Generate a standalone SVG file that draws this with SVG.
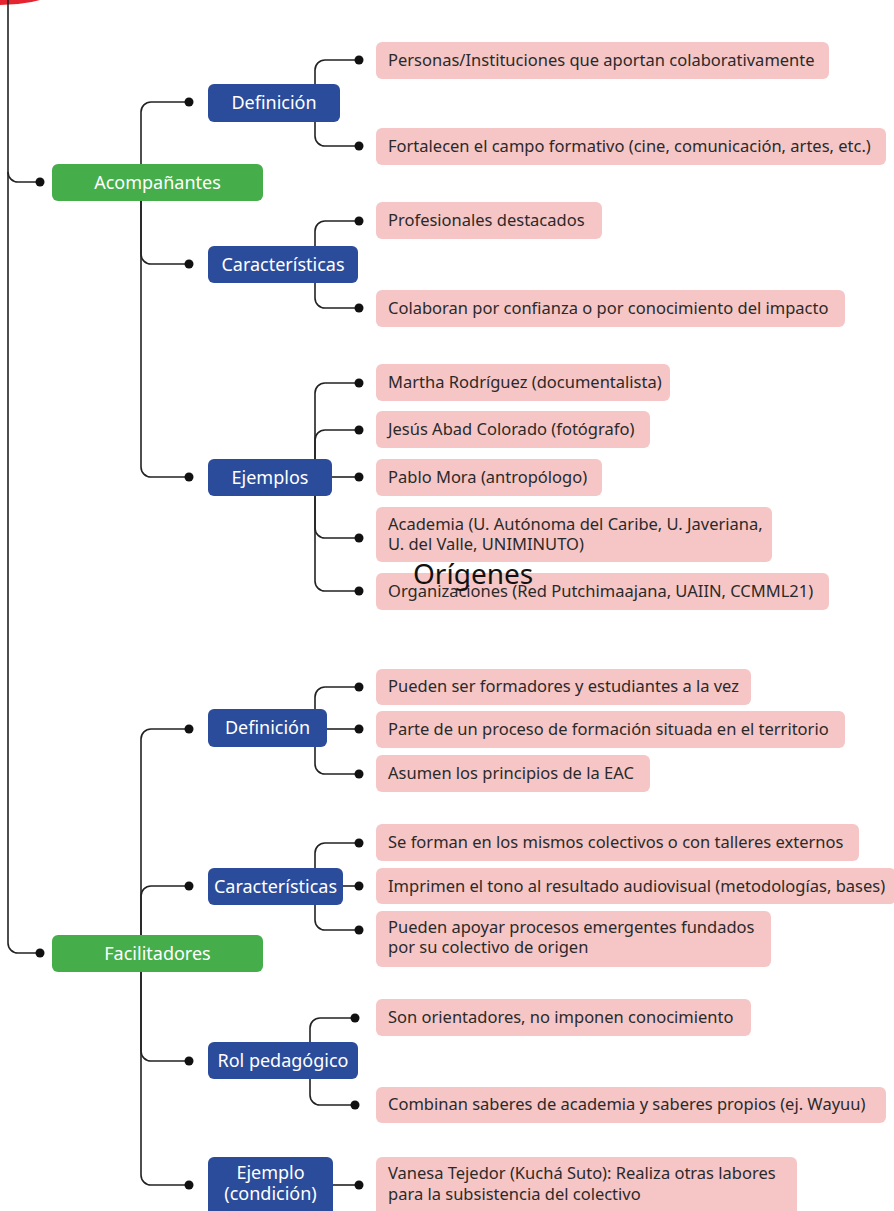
<svg xmlns="http://www.w3.org/2000/svg" width="894" height="1211" viewBox="0 0 894 1211">
  <style>
    .conn path { fill: none; stroke: #222; stroke-width: 1.6; }
    .conn circle { fill: #111; }
    .main rect { fill: #45ae4a; }
    .sub rect { fill: #2b4c9b; }
    .leaf rect { fill: #f6c6c6; }
    .main text, .sub text { font-family: "Noto Sans", "Open Sans", sans-serif; font-size: 18px; fill: #fff; text-anchor: middle; }
    .leaf text { font-family: "Noto Sans", "Open Sans", sans-serif; font-size: 16.5px; fill: #2a2a2a; }
    .stray { font-family: "Noto Sans", "Open Sans", sans-serif; font-size: 28px; fill: #111; }
  </style>

  <!-- root, partly above the page -->
  <g id="root">
    <circle cx="0" cy="-157" r="162" fill="#e52431"/>
  </g>

  <!-- connectors -->
  <g id="connectors" class="conn">
    <!-- root trunk -->
    <path d="M8,0 V943 a10,10 0 0 0 10,10 H40"/>
    <path d="M8,172 a10,10 0 0 0 10,10 H40"/>
    <circle cx="40" cy="182" r="4.5"/>
    <circle cx="40" cy="953" r="4.5"/>

    <!-- Acompañantes -->
    <path d="M141,182 V112 a10,10 0 0 1 10,-10 H189"/>
    <path d="M141,182 V254 a10,10 0 0 0 10,10 H189"/>
    <path d="M141,182 V467 a10,10 0 0 0 10,10 H189"/>
    <circle cx="189" cy="102" r="4.5"/>
    <circle cx="189" cy="264" r="4.5"/>
    <circle cx="189" cy="477" r="4.5"/>

    <path d="M315,103 V70 a10,10 0 0 1 10,-10 H359"/>
    <path d="M315,103 V136 a10,10 0 0 0 10,10 H359"/>
    <circle cx="359" cy="60" r="4.5"/>
    <circle cx="359" cy="146" r="4.5"/>

    <path d="M315,264 V231 a10,10 0 0 1 10,-10 H359"/>
    <path d="M315,264 V298 a10,10 0 0 0 10,10 H359"/>
    <circle cx="359" cy="221" r="4.5"/>
    <circle cx="359" cy="308" r="4.5"/>

    <path d="M315,477 V393 a10,10 0 0 1 10,-10 H359"/>
    <path d="M315,477 V440 a10,10 0 0 1 10,-10 H359"/>
    <path d="M332,477 H359"/>
    <path d="M315,477 V528 a10,10 0 0 0 10,10 H359"/>
    <path d="M315,477 V581 a10,10 0 0 0 10,10 H359"/>
    <circle cx="359" cy="383" r="4.5"/>
    <circle cx="359" cy="430" r="4.5"/>
    <circle cx="359" cy="477" r="4.5"/>
    <circle cx="359" cy="538" r="4.5"/>
    <circle cx="359" cy="591" r="4.5"/>

    <!-- Facilitadores -->
    <path d="M141,953 V739 a10,10 0 0 1 10,-10 H189"/>
    <path d="M141,953 V896 a10,10 0 0 1 10,-10 H189"/>
    <path d="M141,953 V1051 a10,10 0 0 0 10,10 H189"/>
    <path d="M141,953 V1175 a10,10 0 0 0 10,10 H189"/>
    <circle cx="189" cy="729" r="4.5"/>
    <circle cx="189" cy="886" r="4.5"/>
    <circle cx="189" cy="1061" r="4.5"/>
    <circle cx="189" cy="1185" r="4.5"/>

    <path d="M315,729 V697 a10,10 0 0 1 10,-10 H359"/>
    <path d="M327,729 H359"/>
    <path d="M315,729 V764 a10,10 0 0 0 10,10 H359"/>
    <circle cx="359" cy="687" r="4.5"/>
    <circle cx="359" cy="729" r="4.5"/>
    <circle cx="359" cy="774" r="4.5"/>

    <path d="M315,886 V853 a10,10 0 0 1 10,-10 H359"/>
    <path d="M343,886 H359"/>
    <path d="M315,886 V920 a10,10 0 0 0 10,10 H359"/>
    <circle cx="359" cy="843" r="4.5"/>
    <circle cx="359" cy="886" r="4.5"/>
    <circle cx="359" cy="930" r="4.5"/>

    <path d="M310,1061 V1028 a10,10 0 0 1 10,-10 H355"/>
    <path d="M310,1061 V1095 a10,10 0 0 0 10,10 H355"/>
    <circle cx="355" cy="1018" r="4.5"/>
    <circle cx="355" cy="1105" r="4.5"/>

    <path d="M333,1185 H359"/>
    <circle cx="359" cy="1185" r="4.5"/>
  </g>

  <!-- first-level nodes -->
  <g id="acompanantes" class="main">
    <rect x="52" y="164" width="211" height="37" rx="6"/>
    <text x="157.5" y="189">Acompañantes</text>
  </g>
  <g id="facilitadores" class="main">
    <rect x="52" y="935" width="211" height="37" rx="6"/>
    <text x="157.5" y="960">Facilitadores</text>
  </g>

  <!-- second-level nodes -->
  <g id="a-definicion" class="sub">
    <rect x="208" y="84" width="132" height="38" rx="6"/>
    <text x="274" y="109">Definición</text>
  </g>
  <g id="a-caracteristicas" class="sub">
    <rect x="208" y="246" width="150" height="37" rx="6"/>
    <text x="283" y="271">Características</text>
  </g>
  <g id="a-ejemplos" class="sub">
    <rect x="208" y="459" width="124" height="37" rx="6"/>
    <text x="270" y="484">Ejemplos</text>
  </g>
  <g id="f-definicion" class="sub">
    <rect x="208" y="709" width="119" height="38" rx="6"/>
    <text x="267.5" y="734">Definición</text>
  </g>
  <g id="f-caracteristicas" class="sub">
    <rect x="208" y="868" width="135" height="37" rx="6"/>
    <text x="275.5" y="893">Características</text>
  </g>
  <g id="f-rol" class="sub">
    <rect x="208" y="1042" width="150" height="37" rx="6"/>
    <text x="283" y="1067">Rol pedagógico</text>
  </g>
  <g id="f-ejemplo" class="sub">
    <rect x="208" y="1157" width="125" height="62" rx="6"/>
    <text x="270.5" y="1179">Ejemplo</text>
    <text x="270.5" y="1200">(condición)</text>
  </g>

  <!-- leaves -->
  <g id="l-personas" class="leaf">
    <rect x="376" y="42" width="453" height="37" rx="6"/>
    <text x="388" y="66">Personas/Instituciones que aportan colaborativamente</text>
  </g>
  <g id="l-fortalecen" class="leaf">
    <rect x="376" y="128" width="510" height="37" rx="6"/>
    <text x="388" y="152">Fortalecen el campo formativo (cine, comunicación, artes, etc.)</text>
  </g>
  <g id="l-profesionales" class="leaf">
    <rect x="376" y="202" width="226" height="37" rx="6"/>
    <text x="388" y="226">Profesionales destacados</text>
  </g>
  <g id="l-colaboran" class="leaf">
    <rect x="376" y="290" width="469" height="37" rx="6"/>
    <text x="388" y="314">Colaboran por confianza o por conocimiento del impacto</text>
  </g>
  <g id="l-martha" class="leaf">
    <rect x="376" y="364" width="294" height="37" rx="6"/>
    <text x="388" y="388">Martha Rodríguez (documentalista)</text>
  </g>
  <g id="l-jesus" class="leaf">
    <rect x="376" y="411" width="274" height="37" rx="6"/>
    <text x="388" y="435">Jesús Abad Colorado (fotógrafo)</text>
  </g>
  <g id="l-pablo" class="leaf">
    <rect x="376" y="459" width="226" height="37" rx="6"/>
    <text x="388" y="483">Pablo Mora (antropólogo)</text>
  </g>
  <g id="l-academia" class="leaf">
    <rect x="376" y="507" width="396" height="55" rx="6"/>
    <text x="388" y="530">Academia (U. Autónoma del Caribe, U. Javeriana,</text>
    <text x="388" y="550">U. del Valle, UNIMINUTO)</text>
  </g>
  <g id="l-organizaciones" class="leaf">
    <rect x="376" y="573" width="453" height="37" rx="6"/>
    <text x="388" y="597">Organizaciones (Red Putchimaajana, UAIIN, CCMML21)</text>
  </g>

  <g id="l-pueden-ser" class="leaf">
    <rect x="376" y="669" width="375" height="36" rx="6"/>
    <text x="388" y="692">Pueden ser formadores y estudiantes a la vez</text>
  </g>
  <g id="l-parte" class="leaf">
    <rect x="376" y="711" width="469" height="37" rx="6"/>
    <text x="388" y="735">Parte de un proceso de formación situada en el territorio</text>
  </g>
  <g id="l-asumen" class="leaf">
    <rect x="376" y="755" width="274" height="37" rx="6"/>
    <text x="388" y="779">Asumen los principios de la EAC</text>
  </g>
  <g id="l-se-forman" class="leaf">
    <rect x="376" y="824" width="483" height="37" rx="6"/>
    <text x="388" y="848">Se forman en los mismos colectivos o con talleres externos</text>
  </g>
  <g id="l-imprimen" class="leaf">
    <rect x="376" y="868" width="520" height="36" rx="6"/>
    <text x="388" y="892">Imprimen el tono al resultado audiovisual (metodologías, bases)</text>
  </g>
  <g id="l-pueden-apoyar" class="leaf">
    <rect x="376" y="911" width="395" height="56" rx="6"/>
    <text x="388" y="933">Pueden apoyar procesos emergentes fundados</text>
    <text x="388" y="953">por su colectivo de origen</text>
  </g>
  <g id="l-son" class="leaf">
    <rect x="376" y="999" width="375" height="37" rx="6"/>
    <text x="388" y="1023">Son orientadores, no imponen conocimiento</text>
  </g>
  <g id="l-combinan" class="leaf">
    <rect x="376" y="1087" width="510" height="36" rx="6"/>
    <text x="388" y="1110">Combinan saberes de academia y saberes propios (ej. Wayuu)</text>
  </g>
  <g id="l-vanesa" class="leaf">
    <rect x="376" y="1157" width="421" height="62" rx="6"/>
    <text x="388" y="1179">Vanesa Tejedor (Kuchá Suto): Realiza otras labores</text>
    <text x="388" y="1200">para la subsistencia del colectivo</text>
  </g>

  <!-- floating label -->
  <text class="stray" x="413" y="584">Orígenes</text>
</svg>
